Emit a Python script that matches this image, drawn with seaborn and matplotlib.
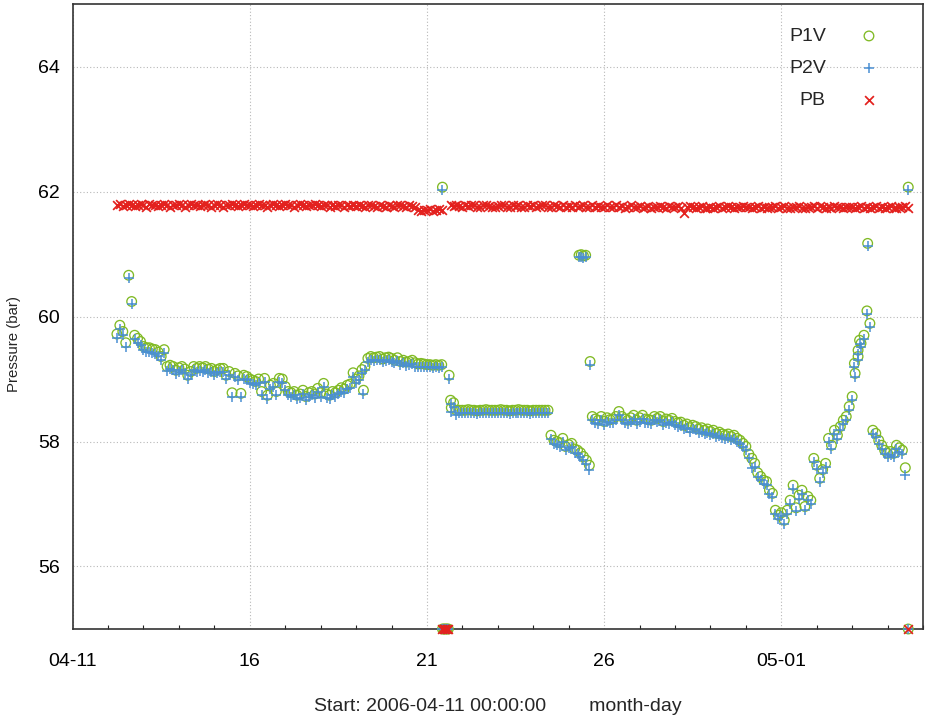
import numpy as np
import pandas as pd
import matplotlib
matplotlib.use("Agg")
import matplotlib.pyplot as plt
import matplotlib.dates as mdates
from matplotlib.ticker import FixedLocator, FixedFormatter, NullFormatter
import seaborn as sns

nan = np.nan

# Regular 2-hourly readings, one row per day (Apr 12 starts at 06:00,
# May 4 stops at 14:00)
sample_start = "2006-04-12 06:00"
sample_step = "2h"

p1v_rows = [
    [59.72, 59.86, 59.76, 59.58, 60.66, 60.24, 59.70, 59.65, 59.60],
    [59.52, 59.50, 59.50, 59.48, 59.47, 59.43, 59.36, 59.47, 59.20, 59.22, 59.20, 59.14],
    [59.18, 59.20, 59.16, 59.06, 59.12, 59.20, 59.17, 59.20, 59.18, 59.20, 59.16, 59.17],
    [59.12, 59.15, 59.17, 59.17, 59.06, 59.12, 58.78, 59.09, 59.05, 58.77, 59.06, 59.04],
    [59.00, 58.98, 58.96, 59.00, 58.80, 59.01, 58.74, 58.90, 58.93, 58.80, 59.01, 59.00],
    [58.88, 58.80, 58.78, 58.80, 58.74, 58.76, 58.82, 58.72, 58.78, 58.80, 58.76, 58.85],
    [58.78, 58.93, 58.76, 58.74, 58.80, 58.78, 58.82, 58.86, 58.84, 58.90, 58.92, 59.10],
    [59.00, 59.05, 59.15, 59.20, 59.33, 59.36, 59.34, 59.35, 59.36, 59.32, 59.34, 59.35],
    [59.33, 59.30, 59.34, 59.28, 59.30, 59.27, 59.28, 59.30, 59.26, 59.24, 59.25, 59.24],
    [59.23, 59.23, 59.22, 59.23, 59.22, 59.23, nan, nan, 58.66, 58.62, 58.50, 58.50],
    [58.50, 58.50, 58.51, 58.50, 58.50, 58.49, 58.50, 58.50, 58.51, 58.50, 58.50, 58.50],
    [58.50, 58.51, 58.50, 58.50, 58.49, 58.50, 58.50, 58.51, 58.50, 58.50, 58.50, 58.49],
    [58.50, 58.50, 58.50, 58.50, 58.50, 58.50, 58.10, 58.02, 58.00, 57.98, 58.05, 57.92],
    [57.95, 57.97, 57.88, 57.86, 57.82, 57.76, 57.70, 57.62, 58.40, 58.36, 58.34, 58.40],
    [58.32, 58.38, 58.35, 58.36, 58.40, 58.48, 58.40, 58.36, 58.34, 58.38, 58.42, 58.34],
    [58.38, 58.42, 58.36, 58.35, 58.34, 58.40, 58.37, 58.40, 58.32, 58.36, 58.34, 58.37],
    [58.32, 58.30, 58.31, 58.26, 58.28, 58.22, 58.26, 58.24, 58.20, 58.22, 58.18, 58.20],
    [58.16, 58.18, 58.13, 58.15, 58.12, 58.10, 58.12, 58.08, 58.10, 58.05, 58.02, 57.97],
    [57.92, 57.80, 57.73, 57.65, 57.50, 57.44, 57.38, 57.36, 57.22, 57.17, 56.90, 56.82],
    [56.86, 56.74, 56.90, 57.06, 57.30, 56.94, 57.14, 57.22, 56.96, 57.12, 57.06, 57.73],
    [57.62, 57.41, 57.55, 57.65, 58.05, 57.94, 58.18, 58.10, 58.24, 58.34, 58.40, 58.56],
    [58.72, 59.09, 59.36, 59.57, 59.70, 60.09, 59.89, 58.18, 58.13, 58.02, 57.94, 57.86],
    [57.81, 57.84, 57.81, 57.94, 57.90, 57.86, 57.58, 62.07],
]

p2v_rows = [
    [59.66, 59.80, 59.70, 59.52, 60.62, 60.20, 59.64, 59.58, 59.54],
    [59.46, 59.44, 59.43, 59.42, 59.40, 59.37, 59.30, 59.41, 59.13, 59.16, 59.14, 59.08],
    [59.12, 59.14, 59.10, 59.00, 59.06, 59.14, 59.11, 59.13, 59.12, 59.14, 59.10, 59.11],
    [59.06, 59.09, 59.11, 59.11, 59.00, 59.06, 58.72, 59.03, 58.99, 58.71, 59.00, 58.98],
    [58.94, 58.92, 58.90, 58.94, 58.74, 58.95, 58.68, 58.84, 58.87, 58.74, 58.95, 58.94],
    [58.82, 58.74, 58.72, 58.74, 58.68, 58.70, 58.76, 58.66, 58.72, 58.74, 58.70, 58.79],
    [58.72, 58.87, 58.70, 58.68, 58.74, 58.72, 58.76, 58.80, 58.78, 58.84, 58.86, 59.04],
    [58.94, 58.99, 59.09, 59.14, 59.28, 59.31, 59.29, 59.30, 59.31, 59.27, 59.29, 59.30],
    [59.28, 59.25, 59.29, 59.22, 59.25, 59.21, 59.22, 59.24, 59.20, 59.19, 59.20, 59.19],
    [59.19, 59.19, 59.18, 59.19, 59.18, 59.19, nan, nan, 58.60, 58.56, 58.42, 58.45],
    [58.45, 58.45, 58.46, 58.45, 58.45, 58.44, 58.45, 58.45, 58.46, 58.45, 58.45, 58.45],
    [58.45, 58.46, 58.45, 58.45, 58.44, 58.45, 58.45, 58.46, 58.45, 58.45, 58.45, 58.44],
    [58.45, 58.45, 58.45, 58.45, 58.45, 58.45, 58.04, 57.96, 57.94, 57.92, 57.99, 57.86],
    [57.89, 57.91, 57.82, 57.80, 57.76, 57.70, 57.64, 57.54, 58.34, 58.30, 58.28, 58.34],
    [58.26, 58.32, 58.29, 58.30, 58.34, 58.42, 58.34, 58.30, 58.28, 58.32, 58.36, 58.28],
    [58.32, 58.36, 58.30, 58.29, 58.28, 58.34, 58.31, 58.34, 58.26, 58.30, 58.28, 58.31],
    [58.26, 58.24, 58.25, 58.20, 58.22, 58.16, 58.20, 58.18, 58.14, 58.16, 58.12, 58.14],
    [58.10, 58.12, 58.07, 58.09, 58.06, 58.04, 58.06, 58.02, 58.04, 57.99, 57.96, 57.91],
    [57.86, 57.74, 57.58, 57.59, 57.44, 57.38, 57.32, 57.30, 57.16, 57.11, 56.84, 56.76],
    [56.80, 56.68, 56.84, 57.00, 57.24, 56.88, 57.08, 57.16, 56.90, 57.06, 57.00, 57.67],
    [57.56, 57.35, 57.49, 57.59, 57.99, 57.88, 58.12, 58.04, 58.18, 58.28, 58.34, 58.50],
    [58.66, 59.03, 59.30, 59.51, 59.64, 60.04, 59.83, 58.12, 58.07, 57.96, 57.88, 57.80],
    [57.75, 57.78, 57.75, 57.88, 57.84, 57.80, 57.46, 62.02],
]

pb_rows = [
    [61.78, 61.80, 61.77, 61.79, 61.80, 61.78, 61.77, 61.79, 61.80],
    [61.78, 61.76, 61.80, 61.78, 61.79, 61.77, 61.78, 61.80, 61.78, 61.76, 61.79, 61.78],
    [61.80, 61.78, 61.76, 61.79, 61.80, 61.78, 61.79, 61.77, 61.78, 61.80, 61.78, 61.76],
    [61.78, 61.80, 61.78, 61.76, 61.79, 61.78, 61.80, 61.78, 61.77, 61.79, 61.80, 61.78],
    [61.79, 61.77, 61.78, 61.80, 61.78, 61.79, 61.76, 61.78, 61.80, 61.78, 61.77, 61.79],
    [61.80, 61.78, 61.79, 61.76, 61.78, 61.80, 61.78, 61.77, 61.79, 61.78, 61.80, 61.78],
    [61.77, 61.79, 61.78, 61.76, 61.79, 61.77, 61.78, 61.79, 61.76, 61.78, 61.77, 61.79],
    [61.77, 61.79, 61.77, 61.75, 61.78, 61.79, 61.77, 61.76, 61.79, 61.77, 61.75, 61.78],
    [61.77, 61.75, 61.78, 61.79, 61.77, 61.75, 61.78, 61.77, 61.76, 61.71, 61.69, 61.71],
    [61.70, 61.72, 61.69, 61.70, 61.72, 61.70, nan, nan, 61.79, 61.77, 61.79, 61.77],
    [61.76, 61.79, 61.77, 61.78, 61.79, 61.76, 61.75, 61.78, 61.79, 61.77, 61.76, 61.75],
    [61.77, 61.78, 61.79, 61.76, 61.75, 61.78, 61.77, 61.79, 61.76, 61.75, 61.78, 61.77],
    [61.78, 61.75, 61.77, 61.78, 61.79, 61.76, 61.75, 61.78, 61.77, 61.75, 61.78, 61.76],
    [61.77, 61.75, 61.78, 61.76, 61.77, 61.78, 61.75, 61.76, 61.78, 61.75, 61.77, 61.76],
    [61.76, 61.78, 61.75, 61.76, 61.78, 61.75, 61.77, 61.74, 61.76, 61.78, 61.75, 61.76],
    [61.77, 61.74, 61.76, 61.77, 61.74, 61.76, 61.75, 61.77, 61.76, 61.74, 61.77, 61.75],
    [61.75, 61.77, 61.74, 61.66, 61.75, 61.77, 61.75, 61.73, 61.76, 61.77, 61.74, 61.73],
    [61.76, 61.73, 61.75, 61.77, 61.74, 61.75, 61.77, 61.75, 61.73, 61.76, 61.75, 61.77],
    [61.75, 61.76, 61.73, 61.75, 61.77, 61.74, 61.76, 61.73, 61.75, 61.76, 61.77, 61.74],
    [61.75, 61.77, 61.74, 61.73, 61.76, 61.75, 61.77, 61.74, 61.73, 61.76, 61.75, 61.77],
    [61.74, 61.77, 61.75, 61.73, 61.76, 61.74, 61.77, 61.75, 61.76, 61.73, 61.75, 61.76],
    [61.75, 61.73, 61.76, 61.77, 61.74, 61.75, 61.73, 61.76, 61.77, 61.74, 61.76, 61.73],
    [61.75, 61.77, 61.74, 61.73, 61.76, 61.75, 61.77, 61.74],
]

# Additional off-schedule readings (valves only)
extra_time = [
    "2006-04-19 05:00",
    "2006-04-21 10:30", "2006-04-21 15:00", "2006-04-21 16:30",
    "2006-04-25 07:00", "2006-04-25 08:30", "2006-04-25 10:00", "2006-04-25 11:30",
    "2006-04-25 14:30",
    "2006-05-03 01:30", "2006-05-03 04:00", "2006-05-03 05:00", "2006-05-03 10:30",
]
extra_p1v = [58.82,
             62.07, 59.06, 58.54,
             60.98, 60.99, 60.97, 60.98,
             59.28,
             59.25, 59.46, 59.62, 61.17]
extra_p2v = [58.76,
             62.03, 59.00, 58.48,
             60.95, 60.95, 60.94, 60.95,
             59.23,
             59.19, 59.40, 59.56, 61.13]

# Logger dropouts: every channel reads the floor value
dropout_time = ["2006-04-21 10:30", "2006-04-21 11:30", "2006-04-21 12:30",
                "2006-04-21 13:30", "2006-04-21 14:30", "2006-05-04 14:00"]
dropout_value = [55.0, 55.0, 55.0, 55.0, 55.0, 55.0]

tick_dates = ["2006-04-11", "2006-04-16", "2006-04-21", "2006-04-26", "2006-05-01"]
tick_labels = ["04-11", "16", "21", "26", "05-01"]
y_ticks = [56, 58, 60, 62, 64]
x_range = ["2006-04-11", "2006-05-05"]
y_range = [55, 65]

# ---- assemble a long table of readings ----
def flatten(rows):
    return np.array([v for row in rows for v in row], dtype=float)

p1v = flatten(p1v_rows)
p2v = flatten(p2v_rows)
pb = flatten(pb_rows)
times = pd.date_range(sample_start, periods=len(p1v), freq=sample_step)

regular = pd.DataFrame({"time": times, "P1V": p1v, "P2V": p2v, "PB": pb})
extra = pd.DataFrame({"time": pd.to_datetime(extra_time), "P1V": extra_p1v,
                      "P2V": extra_p2v, "PB": nan})
drops = pd.DataFrame({"time": pd.to_datetime(dropout_time), "P1V": dropout_value,
                      "P2V": dropout_value, "PB": dropout_value})
df = pd.concat([regular, extra, drops], ignore_index=True).sort_values("time")

# ---- style ----
sns.set_theme(style="white")
plt.rcParams["font.family"] = ["Liberation Sans", "DejaVu Sans"]
FS = 14

c_p1v = "#80ba24"
c_p2v = "#4a8fd3"
c_pb = "#e3211e"

fig = plt.figure(figsize=(9.26, 7.2), dpi=100)
ax = fig.add_axes([0.0784, 0.1264, 0.9184, 0.868])

sns.scatterplot(data=df, x="time", y="P1V", ax=ax, marker="o", s=48,
                facecolors="none", edgecolor=c_p1v, linewidth=0.95,
                label="P1V", clip_on=False, zorder=3)
sns.scatterplot(data=df, x="time", y="P2V", ax=ax, marker="+", s=58,
                color=c_p2v, linewidth=1.1, label="P2V", clip_on=False, zorder=4)
sns.scatterplot(data=df, x="time", y="PB", ax=ax, marker="x", s=40,
                color=c_pb, linewidth=1.25, label="PB", clip_on=False, zorder=5)
ax.collections[0].set_facecolor("none")

ax.set_xlim(pd.to_datetime(x_range[0]), pd.to_datetime(x_range[1]))
ax.set_ylim(*y_range)

major = mdates.date2num(pd.to_datetime(tick_dates).to_pydatetime())
ax.xaxis.set_major_locator(FixedLocator(major))
ax.xaxis.set_major_formatter(FixedFormatter(tick_labels))
ax.xaxis.set_minor_locator(mdates.DayLocator())
ax.xaxis.set_minor_formatter(NullFormatter())
ax.set_yticks(y_ticks)
ax.set_yticklabels([str(v) for v in y_ticks])

ax.tick_params(axis="x", which="major", direction="in", length=5, width=1.0,
               pad=17.5, labelsize=FS, colors="#222222", labelcolor="black",
               top=False)
ax.tick_params(axis="x", which="minor", direction="in", length=3, width=0.8,
               colors="#222222", bottom=True, top=False)
ax.tick_params(axis="y", which="major", direction="in", length=5, width=1.0,
               pad=9, labelsize=FS, colors="#222222", labelcolor="black")

ax.grid(True, which="major", linestyle=(0, (1, 2)), linewidth=0.8, color="#b8b8b8")
ax.set_axisbelow(True)
for sp in ax.spines.values():
    sp.set_visible(True)
    sp.set_color("#333333")
    sp.set_linewidth(1.2)

ax.set_xlabel("Start: 2006-04-11 00:00:00" + " " * 8 + "month-day",
              fontsize=FS, labelpad=20)
ax.set_ylabel("Pressure (bar)", fontsize=10.8)
ax.yaxis.set_label_coords(-0.0607, 0.456)

leg = ax.legend(loc="upper right", bbox_to_anchor=(0.957, 0.975),
                borderaxespad=0, borderpad=0.4, frameon=False,
                markerfirst=False, handlelength=1.0, handletextpad=1.72,
                labelspacing=0.74, fontsize=FS)

fig.savefig("out.png", dpi=100)
